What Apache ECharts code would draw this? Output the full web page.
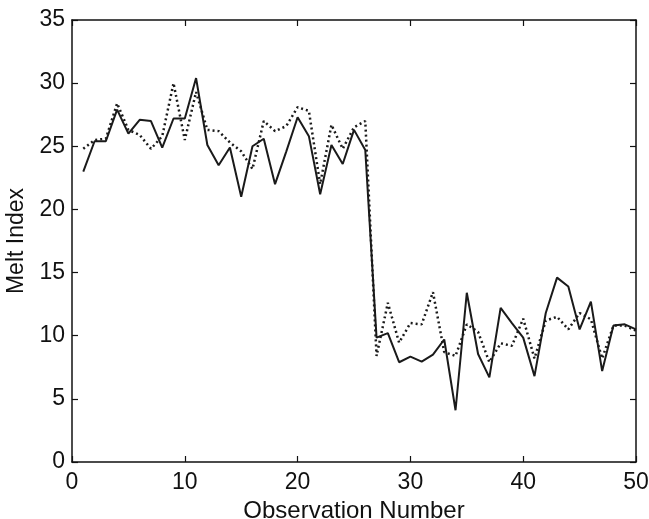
<!DOCTYPE html>
<html>
<head>
<meta charset="utf-8">
<script src="https://cdn.jsdelivr.net/npm/echarts@6/dist/echarts.min.js"></script>
<style>html,body{margin:0;padding:0;background:#fff}#c{width:649px;height:519px}</style>
</head>
<body>
<div id="c"></div>
<script>
var observations = [1,2,3,4,5,6,7,8,9,10,11,12,13,14,15,16,17,18,19,20,21,22,23,24,25,26,27,28,29,30,31,32,33,34,35,36,37,38,39,40,41,42,43,44,45,46,47,48,49,50];
var solidValues = [23.0,25.4,25.4,27.9,26.0,27.1,27.0,24.9,27.2,27.2,30.4,25.1,23.5,24.9,21.0,25.0,25.6,22.0,24.6,27.3,25.8,21.2,25.1,23.6,26.3,24.7,9.85,10.2,7.9,8.35,7.95,8.5,9.7,4.1,13.4,8.55,6.7,12.2,11.0,9.85,6.8,11.8,14.6,13.9,10.5,12.7,7.2,10.8,10.9,10.5];
var dottedValues = [24.8,25.5,25.6,28.4,26.3,25.9,24.8,25.8,30.0,25.5,29.3,26.3,26.2,25.3,24.6,23.2,27.0,26.2,26.6,28.1,27.8,22.0,26.7,24.8,26.5,27.0,8.4,12.6,9.45,11.0,10.9,13.45,8.7,8.4,10.9,10.3,7.9,9.4,9.2,11.35,8.2,11.2,11.5,10.5,11.8,11.3,8.2,10.8,10.8,10.4];
var xTicks = [0,10,20,30,40,50];
var yTicks = [0,5,10,15,20,25,30,35];

function pairs(vals){ return observations.map(function(o,i){ return [o, vals[i]]; }); }

var chart = echarts.init(document.getElementById('c'));
var font = 'Liberation Sans, Arial, sans-serif';
var axisLine = {show:true, onZero:false, lineStyle:{color:'#111', width:1.5}};
var tick = {show:true, inside:true, length:6, lineStyle:{color:'#111', width:1.2}};
chart.setOption({
  animation:false,
  backgroundColor:'#fff',
  grid:{left:72, right:13, top:20, bottom:57, containLabel:false, outerBoundsMode:'none'},
  xAxis:[{
    type:'value', min:xTicks[0], max:xTicks[xTicks.length-1], interval:10, position:'bottom',
    name:'Observation Number', nameLocation:'middle', nameGap:29,
    nameTextStyle:{fontFamily:font, fontSize:24, color:'#111'},
    axisLine:axisLine, axisTick:tick, splitLine:{show:false},
    axisLabel:{fontFamily:font, fontSize:23, color:'#111', margin:9}
  },{
    type:'value', min:xTicks[0], max:xTicks[xTicks.length-1], interval:10, position:'top',
    axisLine:axisLine, axisTick:tick, splitLine:{show:false}, axisLabel:{show:false}
  }],
  yAxis:[{
    type:'value', min:yTicks[0], max:yTicks[yTicks.length-1], interval:5, position:'left',
    name:'Melt Index', nameLocation:'middle', nameGap:36,
    nameTextStyle:{fontFamily:font, fontSize:23, color:'#111'},
    axisLine:axisLine, axisTick:tick, splitLine:{show:false},
    axisLabel:{fontFamily:font, fontSize:23, color:'#111', margin:7}
  },{
    type:'value', min:yTicks[0], max:yTicks[yTicks.length-1], interval:5, position:'right',
    axisLine:axisLine, axisTick:tick, splitLine:{show:false}, axisLabel:{show:false}
  }],
  series:[{
    type:'line', data:pairs(solidValues), showSymbol:false, symbol:'none',
    lineStyle:{color:'#1a1a1a', width:2}
  },{
    type:'line', data:pairs(dottedValues), showSymbol:false, symbol:'none',
    lineStyle:{color:'#1a1a1a', width:2.5, type:[2,3]}
  }]
});
</script>
</body>
</html>
